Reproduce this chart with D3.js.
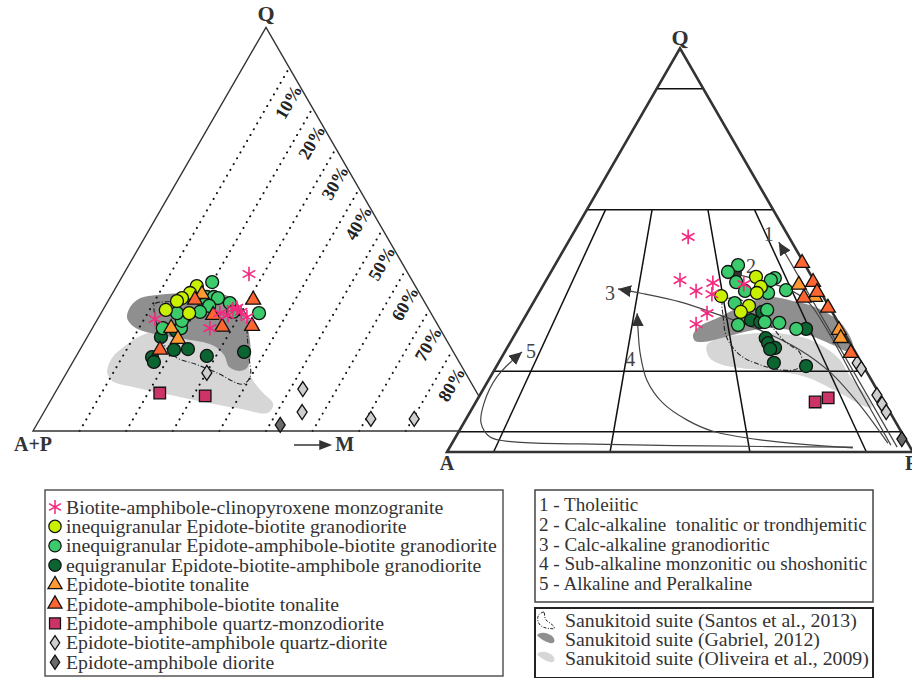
<!DOCTYPE html>
<html><head><meta charset="utf-8">
<script src="https://cdn.jsdelivr.net/npm/d3@7"></script>
<style>body{margin:0;background:#fff}svg{display:block}text{font-family:"Liberation Serif","DejaVu Serif",serif;white-space:pre}</style>
</head><body><svg id="c" width="912" height="678"></svg>
<script>
// ---------- LEFT diagram Q-(A+P)-M : [Q%, M%] ----------
const leftStar = [[38.9,26.9],[27.75,12.3],[25.5,25.2],[29.2,25.5],[28.7,27.5],[30.2,27.8],[30.5,28.5],[29.5,29.9],[28.2,31.8]];
const leftYellow = [[35.9,17.2],[34.2,16.6],[32.95,15.5],[32.2,14.8],[30.0,13.5],[29.2,18.9]];
const leftMedGreen = [[36.9,20.0],[33.2,20.7],[33.2,22.2],[32.95,23.2],[31.7,26.4],[29.5,28.2],[29.2,33.9],[25.5,15.1],[25.5,19.0],[27.3,18.3],[31.5,21.2],[31.0,22.3],[29.2,16.3],[29.5,21.1]];
const leftDarkGreen = [[23.3,15.8],[20.1,20.2],[20.3,23.1],[18.6,28.0],[19.6,35.5],[18.3,16.4],[17.1,17.4],[24.8,18.3]];
const leftTonBt = [[33.9,19.3],[25.5,16.9],[22.8,19.7]];
const leftTonAmBt = [[32.5,18.5],[28.7,24.3],[25.8,27.7],[32.5,31.0],[26.0,34.0],[20.1,17.2]];
const leftQMzd = [[9.4,22.5],[8.7,32.6]];
const leftQDio = [[14.4,30.1],[10.4,52.7],[4.7,55.4],[3.0,71.0],[3.0,80.3]];
const leftDio = [[1.5,52.3]];
const leftMTicks = [10,20,30,40,50,60,70,80];
const leftGabriel = [[28.0,6.2],[31.0,5.5],[33.0,6.7],[33.7,9.8],[34.2,15.5],[34.2,22.0],[32.5,27.1],[28.0,31.5],[22.5,35.3],[17.6,37.8],[15.4,38.0],[14.9,36.6],[15.9,34.1],[18.8,31.6],[21.3,27.8],[22.8,21.2],[24.0,14.2],[25.5,9.3]];
const leftOliveira = [[14.6,8.6],[18.1,7.9],[21.1,9.2],[23.5,11.2],[25.0,14.7],[25.5,23.1],[23.8,30.8],[18.8,36.3],[13.1,40.4],[9.7,44.3],[6.7,48.2],[4.5,48.2],[5.5,41.7],[7.4,32.1],[9.2,23.7],[10.9,16.0],[12.4,10.8]];
const leftSantos = [[31.5,10.4],[27.5,12.6],[22.1,16.7],[18.3,21.5],[16.6,26.5],[14.4,32.3],[11.6,39.2],[13.4,39.9],[18.8,36.9],[24.3,33.8],[28.5,31.7],[31.2,27.7],[32.0,19.9],[32.0,12.3]];

// ---------- RIGHT diagram Q-A-P : [Q%, P%] ----------
const rightStar = [[53.3,25.1],[42.6,28.7],[39.9,33.5],[41.9,36.1],[39.1,37.3],[34.4,38.6],[31.7,37.6],[41.6,42.9]];
const rightYellow = [[38.65,39.5],[43.4,44.6],[40.9,46.9],[39.4,46.8],[36.2,46.7],[34.7,45.7]];
const rightMedGreen = [[46.3,39.3],[44.6,38.0],[42.1,41.0],[39.9,44.0],[43.1,48.8],[42.6,48.2],[40.1,52.7],[39.4,49.2],[36.9,43.3],[31.5,46.7],[35.2,51.1],[32.0,55.3],[30.5,59.7],[32.2,52.1]];
const rightDarkGreen = [[32.7,48.9],[32.2,51.1],[34.7,50.3],[28.2,54.3],[27.0,55.4],[25.8,57.5],[25.5,56.6],[22.1,59.1],[21.3,66.4],[30.5,61.8]];
const rightTonBt = [[41.4,54.8],[38.4,59.8],[30.2,69.0],[28.2,70.4]];
const rightTonAmBt = [[46.8,52.8],[42.1,57.5],[39.6,59.6],[38.2,57.5],[35.7,63.9],[24.5,74.4]];
const rightQMzd = [[12.4,72.8],[13.4,75.1]];
const rightQDio = [[22.05,77.0],[20.6,78.6],[14.1,85.2],[11.9,87.4],[9.9,89.3]];
const rightDio = [[3.2,96.0]];
const rightQLevels = [90,60,20,5];
const rightRatios = [10,35,65,90];   // P/(A+P) %
const rightGabriel = [[29.0,38.3],[31.2,38.7],[33.0,41.2],[35.9,44.9],[38.4,49.5],[37.4,55.5],[35.7,61.6],[32.2,68.2],[27.3,73.3],[24.5,74.9],[25.3,72.3],[26.5,69.6],[29.7,60.9],[30.7,53.3],[29.0,46.9],[27.3,41.7],[27.5,39.5]];
const rightOliveira = [[26.5,42.5],[23.5,44.5],[21.8,47.7],[20.8,52.5],[20.1,59.9],[18.6,67.7],[14.6,77.0],[11.6,83.2],[11.1,85.6],[13.9,83.0],[18.8,77.1],[23.3,72.3],[27.8,64.0],[29.5,55.6],[29.2,49.3],[28.2,44.5]];
const rightSantos = [[37.4,40.5],[33.7,42.4],[28.2,46.0],[24.0,50.9],[21.6,56.4],[20.3,61.9],[20.6,64.8],[22.5,64.9],[24.8,63.2],[27.3,58.9],[31.5,53.6],[36.4,46.8],[38.2,42.3]];
const trend1 = [[52.0,45.2],[1.2,96.0]];
const trend2 = [[44.4,38.3],[42.6,45.9],[40.1,53.6],[37.2,58.9],[29.0,67.7],[15.4,80.9],[1.7,94.4]];
const trend3 = [[40.4,16.5],[39.4,21.7],[37.2,31.4],[33.9,41.6],[30.2,52.1],[25.3,63.1],[19.8,72.3],[11.6,82.8],[2.2,93.5]];
const trend4 = [[34.4,23.6],[30.2,25.9],[24.5,29.2],[17.8,34.0],[12.1,40.3],[7.9,47.6],[5.2,54.3],[3.0,65.7],[1.0,86.6]];
const trend5 = [[24.8,3.7],[18.6,1.4],[12.1,1.9],[7.2,3.7],[3.7,7.4],[2.5,13.1],[2.0,27.5],[1.5,55.0],[1.2,86.5]];
const trendNames = ["1","2","3","4","5"];

// ---------- legends ----------
const rockNames = ["Biotite-amphibole-clinopyroxene monzogranite","inequigranular Epidote-biotite granodiorite","inequigranular Epidote-amphibole-biotite granodiorite","equigranular Epidote-biotite-amphibole granodiorite","Epidote-biotite tonalite","Epidote-amphibole-biotite tonalite","Epidote-amphibole quartz-monzodiorite","Epidote-biotite-amphibole quartz-diorite","Epidote-amphibole diorite"];
const seriesNames = ["1 - Tholeiitic","2 - Calc-alkaline  tonalitic or trondhjemitic","3 - Calc-alkaline granodioritic","4 - Sub-alkaline monzonitic ou shoshonitic","5 - Alkaline and Peralkaline"];
const suiteNames = ["Sanukitoid suite (Santos et al., 2013)","Sanukitoid suite (Gabriel, 2012)","Sanukitoid suite (Oliveira et al., 2009)"];

const svg = d3.select("#c");
const C = {star:"#f5287f", yel:"#c8f000", med:"#3ccb6c", dark:"#0b6531", orL:"#ff9a33", orR:"#ff6530", sq:"#cc3366", dL:"#cfcfcf", dD:"#6a6a6a", gab:"#8f8f8f", oli:"#d6d6d6", line:"#333"};

// scales
const Lx = d3.scaleLinear([0,100],[33,499]), Ly = d3.scaleLinear([0,100],[431,27.4]);
const Rx = d3.scaleLinear([0,100],[447,913]), Ry = d3.scaleLinear([0,100],[452,48.4]);
const lpos = ([q,m]) => [Lx(m + q/2), Ly(q)];
const rpos = ([q,p]) => [Rx(p + q/2), Ry(q)];

// symbol painters
const diamondPath = "M0,-7.5L5,0L0,7.5L-5,0Z";
const symbolDefs = [
  {type:"star", fill:C.star},
  {type:"circle", fill:C.yel},
  {type:"circle", fill:C.med},
  {type:"circle", fill:C.dark},
  {type:"tri", fill:C.orL},
  {type:"tri", fill:C.orR},
  {type:"square", fill:C.sq},
  {type:"diamond", fill:C.dL},
  {type:"diamond", fill:C.dD}
];
function drawSym(g, pts, def, pos, scale=1) {
  const sel = g.selectAll(null).data(pts).join("path")
    .attr("transform", d => { const [x,y] = pos(d); return `translate(${x},${y}) scale(${scale})`; });
  if (def.type === "star") {
    sel.attr("d", d3.symbol(d3.symbolAsterisk, 150)()).attr("fill","none").attr("stroke",def.fill).attr("stroke-width",1.6);
  } else {
    let d;
    if (def.type === "circle") d = d3.symbol(d3.symbolCircle, 132)();
    else if (def.type === "tri") d = d3.symbol(d3.symbolTriangle, 96)();
    else if (def.type === "square") d = d3.symbol(d3.symbolSquare, 134)();
    else d = diamondPath;
    sel.attr("d", d).attr("fill", def.fill).attr("stroke","#111").attr("stroke-width",1.3);
  }
}

// ================= LEFT DIAGRAM =================
const gl = svg.append("g");
const closed = d3.line().curve(d3.curveCatmullRomClosed.alpha(0.5));
gl.append("path").attr("d", closed(leftOliveira.map(lpos))).attr("fill", C.oli);
gl.append("path").attr("d", closed(leftGabriel.map(lpos))).attr("fill", C.gab);
// dotted M lines
leftMTicks.forEach(k => {
  const a = lpos([0,k]), b = lpos([100-k,k]);
  gl.append("line").attr("x1",a[0]).attr("y1",a[1]).attr("x2",b[0]).attr("y2",b[1])
    .attr("stroke","#111").attr("stroke-width",2).attr("stroke-linecap","round").attr("stroke-dasharray","0.1,6.6");
  gl.append("text").attr("transform",`translate(${b[0]-1},${b[1]+34}) rotate(-60)`)
    .attr("text-anchor","middle").attr("dy","0.35em").attr("font-size",18).attr("font-weight","bold").attr("fill","#222").text(k+"%");
});
// triangle outline
const lTri = [[0,0],[100,0],[0,100]].map(lpos);
gl.append("path").attr("d","M"+lTri.join("L")+"Z").attr("fill","none").attr("stroke",C.line).attr("stroke-width",1.4);
gl.append("path").attr("d", closed(leftSantos.map(lpos))).attr("fill","none").attr("stroke","#222").attr("stroke-width",1.1).attr("stroke-dasharray","5,2,1,2");
// points
const leftSeries = [leftDarkGreen, leftMedGreen, leftYellow, leftQDio, leftDio, leftQMzd, leftTonBt, leftTonAmBt, leftStar];
const leftDefs = [3,2,1,7,8,6,4,5,0];
leftSeries.forEach((s,i) => drawSym(gl, s, symbolDefs[leftDefs[i]], lpos));
// labels
const qL = lpos([100,0]), apL = lpos([0,0]);
gl.append("text").attr("x",qL[0]).attr("y",qL[1]-6).attr("text-anchor","middle").attr("font-size",22).attr("font-weight","bold").attr("fill","#333").text("Q");
gl.append("text").attr("x",apL[0]).attr("y",apL[1]+20).attr("text-anchor","middle").attr("font-size",20).attr("font-weight","bold").attr("fill","#333").text("A+P");
const mArrA = lpos([0,56]), mArrB = lpos([0,64]);
gl.append("line").attr("x1",mArrA[0]).attr("y1",mArrA[1]+14).attr("x2",mArrB[0]-10).attr("y2",mArrB[1]+14).attr("stroke","#333").attr("stroke-width",1.5);
gl.append("path").attr("d",`M${mArrB[0]-12},${mArrB[1]+9}L${mArrB[0]+1},${mArrB[1]+14}L${mArrB[0]-12},${mArrB[1]+19}Z`).attr("fill","#333");
gl.append("text").attr("x",mArrB[0]+4).attr("y",mArrB[1]+20).attr("font-size",20).attr("font-weight","bold").attr("fill","#333").text("M");

// ================= RIGHT DIAGRAM =================
const gr = svg.append("g");
const rTri = [[0,0],[0,100],[100,0]].map(rpos);
gr.append("path").attr("d","M"+rTri.join("L")+"Z").attr("fill","#fff");
gr.append("path").attr("d", closed(rightOliveira.map(rpos))).attr("fill", C.oli);
gr.append("path").attr("d", closed(rightGabriel.map(rpos))).attr("fill", C.gab);
rightQLevels.forEach(q => {
  const a = rpos([q,0]), b = rpos([q,100-q]);
  gr.append("line").attr("x1",a[0]).attr("y1",a[1]).attr("x2",b[0]).attr("y2",b[1]).attr("stroke","#111").attr("stroke-width",1.5);
});
rightRatios.forEach(r => {
  const a = rpos([60, r*0.4]), b = rpos([0, r]);
  gr.append("line").attr("x1",a[0]).attr("y1",a[1]).attr("x2",b[0]).attr("y2",b[1]).attr("stroke","#111").attr("stroke-width",1.5);
});
gr.append("path").attr("d","M"+rTri.join("L")+"Z").attr("fill","none").attr("stroke",C.line).attr("stroke-width",2.6).attr("stroke-linejoin","miter");
// arrow marker
const defs = svg.append("defs");
defs.append("marker").attr("id","ah").attr("markerUnits","userSpaceOnUse").attr("markerWidth",14).attr("markerHeight",12)
  .attr("refX",13).attr("refY",6).attr("orient","auto-start-reverse")
  .append("path").attr("d","M0,0L13,6L0,12Z").attr("fill","#333");
const cr = d3.line().curve(d3.curveCatmullRom.alpha(0.5));
const trends = [trend1, trend2, trend3, trend4, trend5];
const labOff = [[-10,-8],[22,-7],[-8,4],[-7,46],[9,-1]];
trends.forEach((t,i) => {
  gr.append("path").attr("d", cr(t.map(rpos))).attr("fill","none").attr("stroke","#444").attr("stroke-width",1.2).attr("marker-start","url(#ah)");
  const p = rpos(t[0]);
  gr.append("text").attr("x",p[0]+labOff[i][0]).attr("y",p[1]+labOff[i][1]).attr("text-anchor","middle").attr("dy","0.35em")
    .attr("font-size",20).attr("fill","#444").text(trendNames[i]);
});
gr.append("path").attr("d", closed(rightSantos.map(rpos))).attr("fill","none").attr("stroke","#222").attr("stroke-width",1.1).attr("stroke-dasharray","5,2,1,2");
const rightSeries = [rightDarkGreen, rightMedGreen, rightYellow, rightQDio, rightDio, rightQMzd, rightTonBt, rightTonAmBt, rightStar];
rightSeries.forEach((s,i) => drawSym(gr, s, symbolDefs[leftDefs[i]], rpos));
const qR = rpos([100,0]), aR = rpos([0,0]), pR = rpos([0,100]);
gr.append("text").attr("x",qR[0]).attr("y",qR[1]-3).attr("text-anchor","middle").attr("font-size",22).attr("font-weight","bold").attr("fill","#333").text("Q");
gr.append("text").attr("x",aR[0]).attr("y",aR[1]+18).attr("text-anchor","middle").attr("font-size",20).attr("font-weight","bold").attr("fill","#333").text("A");
gr.append("text").attr("x",pR[0]-8).attr("y",pR[1]+18).attr("font-size",20).attr("font-weight","bold").attr("fill","#333").text("P");

// ================= LEGENDS =================
const lg1 = svg.append("g");
lg1.append("rect").attr("x",45).attr("y",490).attr("width",458).attr("height",186).attr("fill","#fff").attr("stroke","#555").attr("stroke-width",1.5);
rockNames.forEach((n,i) => {
  const y = 507 + i*19.4;
  drawSym(lg1, [0], symbolDefs[i], () => [55, y], 0.95);
  lg1.append("text").attr("x",66).attr("y",y).attr("dy","0.33em").attr("font-size",19.8).attr("fill","#333").text(n);
});
const lg2 = svg.append("g");
lg2.append("rect").attr("x",535).attr("y",490).attr("width",338).attr("height",112).attr("fill","#fff").attr("stroke","#444").attr("stroke-width",1.5);
seriesNames.forEach((n,i) => {
  lg2.append("text").attr("x",539).attr("y",505 + i*19.6).attr("dy","0.33em").attr("font-size",19.1).attr("fill","#333").text(n);
});
const lg3 = svg.append("g");
lg3.append("rect").attr("x",535).attr("y",608).attr("width",338).attr("height",70).attr("fill","#fff").attr("stroke","#222").attr("stroke-width",2);
const iconS = "M544,612C537,613 536,620 540,625C544,629 549,628 554,629C556,626 549,623 546,620C544,617 545,614 544,612Z";
const iconB = "M537,635C541,631 549,633 553,637C556,641 554,644 550,643C546,642 540,639 537,635Z";
lg3.append("path").attr("d",iconS).attr("fill","none").attr("stroke","#222").attr("stroke-width",1).attr("stroke-dasharray","3,1.5,1,1.5");
lg3.append("path").attr("d",iconB).attr("fill",C.gab);
lg3.append("path").attr("d",iconB).attr("transform","translate(0,19)").attr("fill",C.oli);
suiteNames.forEach((n,i) => {
  lg3.append("text").attr("x",565).attr("y",620 + i*19.2).attr("dy","0.33em").attr("font-size",19.8).attr("fill","#333").text(n);
});
</script></body></html>
